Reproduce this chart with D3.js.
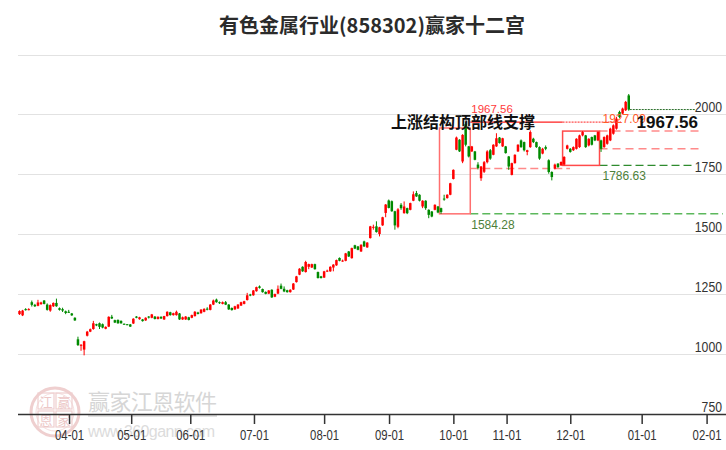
<!DOCTYPE html>
<html><head><meta charset="utf-8">
<script src="https://cdn.jsdelivr.net/npm/d3@7"></script>
<style>body{margin:0;background:#fff}svg{display:block}</style>
</head><body><svg id="c" width="726" height="450"></svg>
<script>
const title = "有色金属行业(858302)赢家十二宫";
const opens = [1165,1160,1186,1183,1215,1204,1200,1207,1222,1205,1180,1198,1212,1190,1186,1177,1175,1168,1150,1060,1033,1017,1075,1092,1103,1123,1127,1123,1104,1113,1154,1140,1141,1137,1125,1123,1122,1126,1155,1144,1143,1139,1155,1150,1155,1145,1154,1143,1157,1173,1161,1161,1168,1143,1143,1152,1150,1157,1172,1169,1175,1188,1183,1205,1226,1215,1208,1215,1205,1191,1185,1189,1201,1208,1224,1247,1244,1261,1281,1270,1258,1251,1267,1238,1251,1284,1271,1265,1257,1268,1299,1330,1363,1341,1363,1360,1374,1341,1323,1318,1345,1344,1360,1369,1400,1386,1388,1427,1399,1453,1448,1427,1469,1444,1483,1528,1532,1500,1536,1588,1640,1637,1595,1530,1622,1587,1608,1601,1639,1671,1664,1615,1639,1601,1594,1601,1615,1608,1648,1650,1664,1730,1852,1894,1803,1959,1866,1845,1845,1790,1733,1760,1800,1850,1831,1866,1903,1866,1866,1824,1747,1796,1845,1891,1884,1843,1863,1898,1884,1863,1836,1863,1808,1759,1773,1794,1787,1790,1856,1856,1850,1856,1863,1912,1912,1870,1905,1912,1891,1891,1863,1877,1891,1919,1940,2010,2003,2017,2079];
const highs = [1181,1183,1190,1190,1222,1208,1225,1217,1224,1210,1206,1214,1230,1193,1192,1180,1183,1170,1152,1071,1040,1054,1095,1105,1137,1125,1130,1126,1114,1156,1162,1142,1143,1139,1126,1124,1124,1148,1157,1154,1145,1152,1157,1166,1157,1156,1156,1158,1177,1175,1171,1180,1170,1155,1157,1154,1163,1178,1175,1186,1190,1194,1207,1226,1230,1218,1218,1220,1207,1193,1200,1207,1217,1221,1254,1250,1266,1280,1285,1272,1260,1266,1269,1251,1285,1293,1281,1267,1269,1295,1325,1357,1365,1388,1376,1376,1376,1343,1325,1346,1351,1365,1374,1393,1402,1393,1421,1429,1443,1455,1450,1457,1472,1466,1534,1539,1553,1530,1572,1625,1644,1640,1597,1608,1629,1636,1610,1631,1678,1680,1666,1641,1641,1603,1596,1624,1617,1610,1664,1666,1714,1770,1907,1896,1917,1967.56,1868,1868,1847,1800,1784,1805,1850,1855,1875,1921,1905,1902,1868,1826,1798,1833,1875,1895,1886,1852,1933,1902,1886,1866,1860,1870,1812,1762,1794,1796,1803,1825,1873,1859,1866,1900,1915,1930,1914,1900,1907,1914,1929,1894,1908,1915,1944,1958,1989,2015,2028,2056,2085];
const lows = [1162,1157,1180,1181,1197,1195,1198,1204,1206,1180,1175,1195,1196,1180,1174,1165,1170,1158,1137,1032,1012,993,1072,1090,1100,1115,1103,1106,1102,1111,1145,1128,1125,1125,1121,1119,1112,1124,1148,1142,1134,1137,1147,1148,1143,1143,1145,1141,1155,1159,1159,1159,1141,1141,1141,1139,1148,1155,1164,1167,1173,1181,1181,1203,1213,1208,1206,1203,1183,1180,1183,1187,1199,1206,1222,1240,1242,1259,1272,1255,1248,1249,1233,1236,1249,1269,1257,1255,1255,1266,1297,1328,1342,1339,1353,1358,1351,1314,1314,1316,1341,1342,1344,1367,1386,1384,1386,1404,1397,1437,1432,1425,1446,1442,1481,1518,1506,1490,1534,1570,1607,1593,1518,1524,1601,1585,1583,1599,1637,1655,1636,1608,1601,1566,1570,1599,1587,1584.28,1639,1648,1662,1728,1850,1843,1796,1866,1820,1843,1808,1770,1722,1755,1795,1810,1829,1864,1878,1864,1836,1768,1745,1794,1843,1860,1845,1829,1860,1880,1860,1810,1833,1850,1752,1724,1770,1776,1784,1786.63,1853,1840,1847,1853,1860,1908,1860,1866,1870,1888,1888,1843,1860,1873,1888,1915,1936,1985,2000,2014,2015];
const closes = [1178,1180,1183,1186,1204,1198,1214,1214,1208,1183,1203,1212,1198,1183,1180,1170,1172,1160,1139,1036,1037,1052,1092,1102,1127,1118,1112,1109,1112,1154,1147,1130,1127,1127,1122,1120,1113,1146,1150,1152,1136,1150,1152,1164,1145,1154,1147,1157,1175,1161,1169,1175,1143,1152,1155,1141,1161,1175,1166,1184,1187,1185,1205,1222,1215,1212,1215,1205,1185,1182,1198,1205,1215,1219,1244,1243,1264,1278,1275,1257,1250,1264,1235,1249,1271,1271,1260,1257,1267,1293,1323,1355,1344,1383,1374,1374,1353,1316,1316,1344,1347,1363,1372,1391,1388,1389,1419,1406,1441,1439,1434,1455,1448,1464,1532,1530,1508,1528,1570,1623,1609,1595,1536,1603,1608,1615,1587,1629,1666,1657,1639,1639,1608,1580,1573,1622,1590,1592,1645,1664,1712,1768,1903,1845,1914,1873,1824,1866,1810,1776,1782,1800,1845,1815,1873,1900,1880,1900,1838,1782,1796,1831,1873,1863,1850,1850,1926,1884,1863,1815,1856,1856,1759,1738,1790,1780,1801,1822,1870,1843,1863,1898,1912,1926,1863,1898,1873,1891,1926,1856,1905,1912,1940,1954,1982,1989,2024,2052,2020];
const monthLabels = ["04-01","05-01","06-01","07-01","08-01","09-01","10-01","11-01","12-01","01-01","02-01"];
const monthPos = [16.1,36.3,55.5,76.2,99,120.1,141,158.3,179,202.2,223.3];
const yTickValues = [750,1000,1250,1500,1750,2000];
const gridValues = [1000,1250,1500,1750,2000,2250];
const boxStart = [136.5,176.5];
const boxEnd = [146.5,188.5];
const boxTop = [1943,1930];
const boxBottom = [1584.28,1786.63];
const topLineValue = 1967.56;
const midDashValue = 1774;
const box2MidValue = 1856;
const lastIndex = opens.length - 1;

const svg = d3.select("#c");
const x = d3.scaleLinear().domain([0,222]).range([19.5, 19.5+222*3.077]);
const y = d3.scaleLinear().domain([750,2250]).range([413.5, 54.5]);
const numFont = "'Liberation Sans', Arial, sans-serif";
const cjkFont = "'Noto Sans CJK SC', 'Noto Sans', sans-serif";

// title
svg.append("text").attr("x",372).attr("y",33).attr("text-anchor","middle")
  .attr("font-family",cjkFont).attr("font-weight","bold").attr("font-size",20)
  .attr("fill","#2b2b2b").text(title);

// gridlines
svg.append("g").selectAll("line").data(gridValues).join("line")
  .attr("x1",18).attr("x2",726).attr("y1",d=>Math.round(y(d))+0.5).attr("y2",d=>Math.round(y(d))+0.5)
  .attr("stroke","#e2e2e2").attr("stroke-width",1);

// watermark
const wm = svg.append("g").attr("opacity",0.55);
wm.append("circle").attr("cx",55).attr("cy",412).attr("r",24).attr("fill","none").attr("stroke","#e2a8a8").attr("stroke-width",3);
wm.append("circle").attr("cx",55).attr("cy",412).attr("r",19).attr("fill","none").attr("stroke","#eec4c4").attr("stroke-width",1);
[["江",46,408],["赢",64,408],["恩",46,426],["家",64,426]].forEach(([t,cx,cy])=>{
  wm.append("rect").attr("x",cx-8).attr("y",cy-15).attr("width",16).attr("height",16).attr("fill","none").attr("stroke","#e2a8a8").attr("stroke-width",1.2);
  wm.append("text").attr("x",cx).attr("y",cy-1).attr("text-anchor","middle").attr("font-family",cjkFont).attr("font-size",13).attr("fill","#dd9a9a").text(t);
});
wm.append("text").attr("x",88).attr("y",410).attr("font-family",cjkFont).attr("font-size",22).attr("fill","#b5b5b5").attr("textLength",129).text("赢家江恩软件");
wm.append("rect").attr("x",88).attr("y",415).attr("width",129).attr("height",2).attr("fill","#c8c8c8");
wm.append("text").attr("x",88).attr("y",437).attr("font-family",numFont).attr("font-size",16).attr("fill","#c0c0c0").attr("textLength",127).text("www.360gann.com");

// y labels
svg.append("g").selectAll("text").data(yTickValues).join("text")
  .attr("x",722).attr("y",d=>y(d)-2).attr("text-anchor","end")
  .attr("font-family",numFont).attr("font-size",14).attr("fill","#333")
  .attr("textLength",d=>String(d).length*6.8).attr("lengthAdjust","spacingAndGlyphs")
  .text(d=>d);

// x axis
const xAxis = d3.axisBottom(x).tickValues(monthPos).tickSize(10).tickFormat((d,i)=>monthLabels[i]);
const ax = svg.append("g").attr("transform",`translate(0,${Math.round(y(750))})`).call(xAxis);
ax.select(".domain").attr("d","M18,0.5H726").attr("stroke","#333").attr("stroke-width",1.5);
ax.selectAll(".tick line").attr("stroke","#333").attr("stroke-width",1.5);
ax.selectAll(".tick text").attr("font-family",numFont).attr("font-size",14).attr("fill","#333")
  .attr("dy","0.95em").attr("textLength",29).attr("lengthAdjust","spacingAndGlyphs");

// annotation lines (behind candles)
const ann = svg.append("g");
const hline = (v,x1,x2,color,dash,w)=>ann.append("line").attr("x1",x1).attr("x2",x2).attr("y1",y(v)).attr("y2",y(v))
  .attr("stroke",color).attr("stroke-width",w||1.5).attr("stroke-dasharray",dash||null);
hline(boxBottom[0], x(boxEnd[0]), 723, "#5cb85c", "8,4", 1.5);
hline(midDashValue, x(boxEnd[0]), 570, "#ff8a8a", "8,4", 1.5);
hline(boxTop[1], x(boxEnd[1]), 700, "#ff8a8a", "8,5", 1.5);
hline(box2MidValue, x(boxEnd[1]), 700, "#ff8a8a", "8,5", 1.5);
hline(boxBottom[1], x(boxEnd[1]), 695, "#2e8b2e", "8,4", 1.3);
hline(topLineValue, x(boxEnd[0]), x(boxStart[1]), "#ff2020", null, 1.2);
hline(topLineValue, x(boxStart[1]), 621, "#ff2020", "2,1", 1);
hline(closes[lastIndex], x(lastIndex)+1, 695, "#2a6e2a", "2,1", 1);

// boxes
svg.append("g").selectAll("rect").data(boxStart).join("rect")
  .attr("x",(d,i)=>x(d)).attr("width",(d,i)=>x(boxEnd[i])-x(d))
  .attr("y",(d,i)=>y(boxTop[i])).attr("height",(d,i)=>y(boxBottom[i])-y(boxTop[i]))
  .attr("fill","none").attr("stroke",(d,i)=>i===0?"#ff6f6f":"#ff4a4a").attr("stroke-width",1.5);

// candles
const idx = d3.range(opens.length);
const cg = svg.append("g");
const col = i => closes[i] >= opens[i] ? "#ff0000" : "#008a00";
cg.selectAll("line").data(idx).join("line")
  .attr("x1",i=>x(i)).attr("x2",i=>x(i)).attr("y1",i=>y(highs[i])).attr("y2",i=>y(lows[i]))
  .attr("stroke",col).attr("stroke-width",1);
cg.selectAll("rect").data(idx).join("rect")
  .attr("x",i=>x(i)-1.25).attr("width",2.5)
  .attr("y",i=>y(Math.max(opens[i],closes[i])))
  .attr("height",i=>Math.max(1, y(Math.min(opens[i],closes[i]))-y(Math.max(opens[i],closes[i]))))
  .attr("fill",col);

// labels
svg.append("text").attr("x",x(boxEnd[0])+1).attr("y",y(topLineValue)-9).attr("font-family",numFont).attr("font-size",11.5)
  .attr("fill","#ff3b3b").text("1967.56");
svg.append("text").attr("x",x(boxEnd[1])+3).attr("y",y(topLineValue)+1).attr("font-family",numFont).attr("font-size",12)
  .attr("fill","#ff5a2a").text("1927.09");
svg.append("text").attr("x",x(boxEnd[0])+1).attr("y",y(boxBottom[0])+15).attr("font-family",numFont).attr("font-size",12)
  .attr("fill","#4d7f3a").text("1584.28");
svg.append("text").attr("x",x(boxEnd[1])+3).attr("y",y(boxBottom[1])+15).attr("font-family",numFont).attr("font-size",12)
  .attr("fill","#4d7f3a").text("1786.63");
svg.append("text").attr("x",535).attr("y",y(topLineValue)+6).attr("text-anchor","end")
  .attr("font-family",cjkFont).attr("font-weight","bold").attr("font-size",16).attr("fill","#111").text("上涨结构顶部线支撑");
svg.append("text").attr("x",698).attr("y",y(topLineValue)+6).attr("text-anchor","end")
  .attr("font-family",numFont).attr("font-weight","bold").attr("font-size",17).attr("fill","#111").text("1967.56");
</script></body></html>
